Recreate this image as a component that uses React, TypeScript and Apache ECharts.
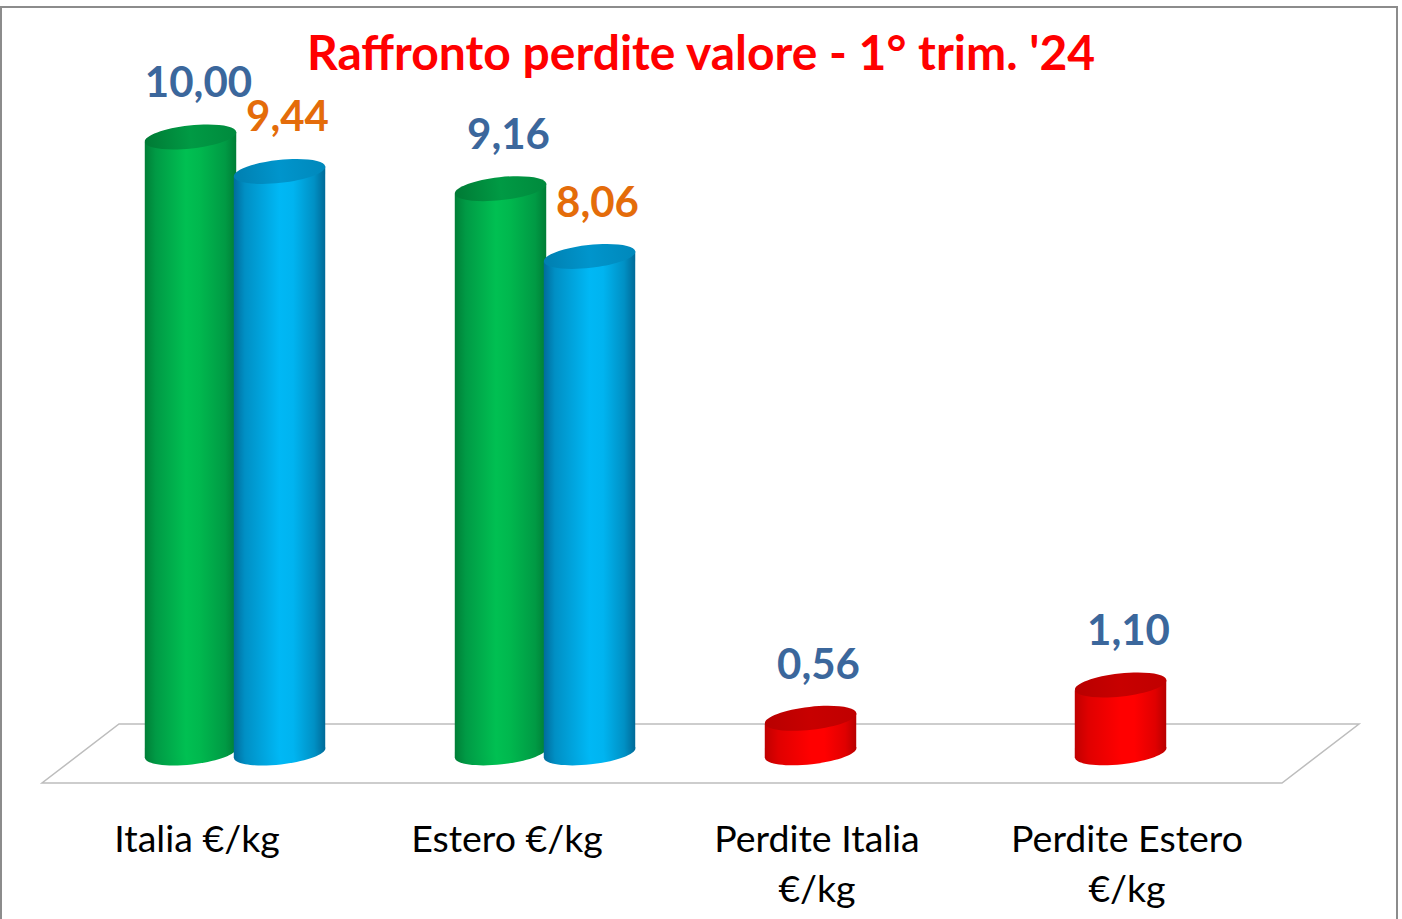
import React, { useEffect, useRef } from "react";
import * as echarts from "echarts";

const categories = ["Italia €/kg", "Estero €/kg", "Perdite Italia\n€/kg", "Perdite Estero\n€/kg"];
const seriesA = [10.0, 9.16, 0.56, 1.1];
const seriesB: (number | null)[] = [9.44, 8.06, null, null];
const title = "Raffronto perdite valore - 1° trim. '24";

const FONT = "Lato, 'Open Sans', sans-serif";

const PALETTES: Record<string, any> = {
  green: {
    body: [
      [0, "#007f37"], [0.12, "#009a45"], [0.45, "#00c052"], [0.6, "#00b84e"], [0.88, "#009a44"], [1, "#007d36"],
    ],
    top: [[0, "#007a35"], [0.5, "#009a44"], [1, "#008a3d"]],
  },
  blue: {
    body: [
      [0, "#006c9c"], [0.12, "#008fc4"], [0.5, "#00b8f5"], [0.65, "#00b4f0"], [0.88, "#0090c4"], [1, "#006a98"],
    ],
    top: [[0, "#007fb0"], [0.5, "#0095cc"], [1, "#0088bb"]],
  },
  red: {
    body: [
      [0, "#c00000"], [0.15, "#e00000"], [0.5, "#ff0000"], [0.65, "#ff0000"], [0.88, "#e00000"], [1, "#b80000"],
    ],
    top: [[0, "#b80000"], [0.5, "#c80000"], [1, "#c00000"]],
  },
};

function grad(stops: any[]) {
  return new echarts.graphic.LinearGradient(
    0, 0, 1, 0,
    stops.map((s) => ({ offset: s[0], color: s[1] }))
  );
}

function makeRender(slot: number, labelColor: string, paletteFor: (i: number) => string) {
  return (params: any, api: any) => {
    const ci = api.value(0);
    const v = api.value(1);
    if (v == null || isNaN(v)) return null;
    const base = api.coord([ci, 0]);
    const top = api.coord([ci, v]);
    const depthX = 38;
    const cx = base[0] + depthX + slot * 44.5;
    const rx = 46;
    const ry = 11.5;
    const th = 0.11;
    const dxr = rx * Math.cos(th);
    const dyr = rx * Math.sin(th);
    const yT = top[1];
    const yB = base[1];
    const pal = PALETTES[paletteFor(ci)];
    const val = Number(v).toFixed(2).replace(".", ",");
    return {
      type: "group",
      children: [
        {
          type: "ellipse",
          shape: { cx, cy: yB, rx, ry },
          rotation: th,
          originX: cx,
          originY: yB,
          style: { fill: grad(pal.body) },
        },
        {
          type: "polygon",
          shape: {
            points: [
              [cx - dxr, yT + dyr],
              [cx + dxr, yT - dyr],
              [cx + dxr, yB - dyr],
              [cx - dxr, yB + dyr],
            ],
          },
          style: { fill: grad(pal.body) },
        },
        {
          type: "ellipse",
          shape: { cx, cy: yT, rx, ry },
          rotation: th,
          originX: cx,
          originY: yT,
          style: { fill: grad(pal.top) },
        },
        {
          type: "text",
          x: cx + 8,
          y: yT - 56,
          style: {
            text: val,
            fill: labelColor,
            font: `bold 42px ${FONT}`,
            textAlign: "center",
            textVerticalAlign: "middle",
          },
        },
      ],
    };
  };
}

export default function App() {
  const ref = useRef<HTMLDivElement>(null);
  useEffect(() => {
    if (!ref.current) return;
    const chart = echarts.init(ref.current, null, { renderer: "svg" });
    chart.setOption({
      animation: false,
      backgroundColor: "#ffffff",
      title: {
        text: title,
        left: "center",
        top: 22,
        textStyle: { color: "#ff0000", fontFamily: FONT, fontWeight: "bold", fontSize: 48 },
      },
      graphic: [
        {
          type: "rect",
          shape: { x: 1, y: 7, width: 1396, height: 930 },
          style: { fill: "none", stroke: "#8c8c8c", lineWidth: 2 },
          silent: true,
        },
      ],
      grid: { left: 42, right: 120, top: 137, bottom: 166 },
      xAxis: {
        type: "category",
        data: categories,
        axisLine: { show: false },
        axisTick: { show: false },
        splitLine: { show: false },
        axisLabel: {
          margin: 59,
          color: "#000000",
          fontFamily: FONT,
          fontSize: 37.5,
          lineHeight: 50,
          interval: 0,
        },
      },
      yAxis: { type: "value", min: 0, max: 10, show: false },
      series: [
        {
          type: "custom",
          name: "floor",
          data: [[0]],
          z: 1,
          silent: true,
          renderItem: (params: any, api: any) => {
            const cs = params.coordSys;
            const yBase = api.coord([0, 0])[1];
            const yF = yBase + 30;
            const yK = yBase - 29;
            const x0 = cs.x;
            const x1 = cs.x + cs.width;
            return {
              type: "polygon",
              shape: { points: [[x0, yF], [x1, yF], [x1 + 77, yK], [x0 + 77, yK]] },
              style: { fill: "#ffffff", stroke: "#bdbdbd", lineWidth: 1.5 },
            };
          },
        },
        {
          type: "custom",
          name: "A",
          z: 2,
          data: seriesA.map((v, i) => [i, v]),
          renderItem: makeRender(-1, "#3b679c", (i) => (i < 2 ? "green" : "red")),
        },
        {
          type: "custom",
          name: "B",
          z: 3,
          data: seriesB.map((v, i) => [i, v]),
          renderItem: makeRender(1, "#e46c0a", () => "blue"),
        },
      ],
    });
    return () => chart.dispose();
  }, []);
  return (
    <div
      ref={ref}
      style={{ position: "absolute", left: 0, top: 0, width: 1402, height: 919 }}
    />
  );
}
